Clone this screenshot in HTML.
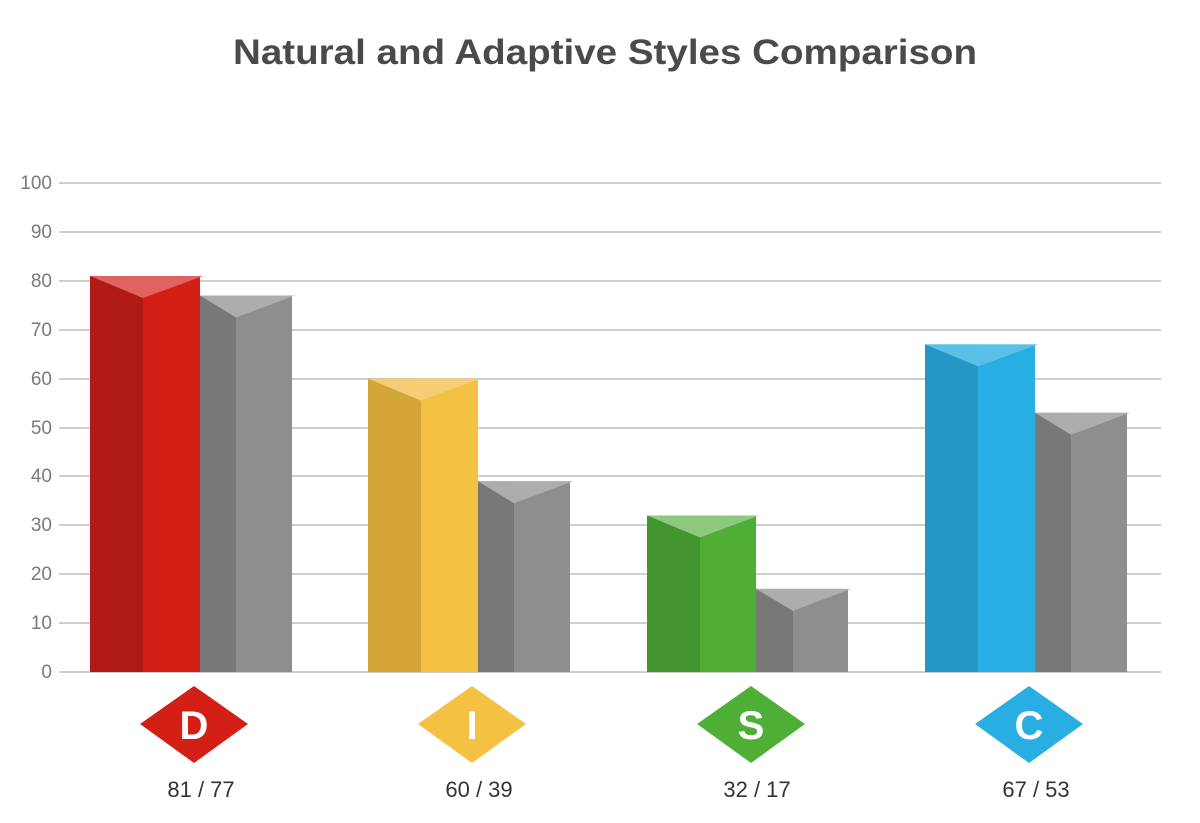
<!DOCTYPE html>
<html><head><meta charset="utf-8"><style>
html,body{margin:0;padding:0;background:#fff;}
svg{display:block;}
text{font-family:"Liberation Sans",sans-serif;}
</style></head><body>
<svg width="1200" height="823" viewBox="0 0 1200 823">
<text x="233" y="64" font-size="35" font-weight="bold" fill="#4a4a4a" textLength="744" lengthAdjust="spacingAndGlyphs">Natural and Adaptive Styles Comparison</text>
<g stroke="#cfcfcf" stroke-width="2">
<line x1="59" x2="1161" y1="183" y2="183"/><line x1="59" x2="1161" y1="232" y2="232"/>
<line x1="59" x2="1161" y1="281" y2="281"/><line x1="59" x2="1161" y1="330" y2="330"/>
<line x1="59" x2="1161" y1="379" y2="379"/><line x1="59" x2="1161" y1="428" y2="428"/>
<line x1="59" x2="1161" y1="476" y2="476"/><line x1="59" x2="1161" y1="525" y2="525"/>
<line x1="59" x2="1161" y1="574" y2="574"/><line x1="59" x2="1161" y1="623" y2="623"/>
<line x1="59" x2="1161" y1="672" y2="672"/>
</g>
<g font-size="19" fill="#7a7a7a" text-anchor="end">
<text x="52" y="189">100</text><text x="52" y="238">90</text><text x="52" y="287">80</text>
<text x="52" y="336">70</text><text x="52" y="385">60</text><text x="52" y="434">50</text>
<text x="52" y="482">40</text><text x="52" y="531">30</text><text x="52" y="580">20</text>
<text x="52" y="629">10</text><text x="52" y="678">0</text>
</g>
<rect x="90" y="276" width="53" height="396" fill="#b01a14"/><rect x="143" y="276" width="57" height="396" fill="#d31f16"/>
<polygon points="90,276 203,276 143,298" fill="#e06360"/>
<rect x="200" y="295.5" width="36" height="376.5" fill="#787878"/><rect x="236" y="295.5" width="56" height="376.5" fill="#8e8e8e"/>
<polygon points="200,295.5 295,295.5 236,317.5" fill="#adadad"/>
<rect x="368" y="378.6" width="53" height="293.4" fill="#d4a63a"/><rect x="421" y="378.6" width="57" height="293.4" fill="#f5c143"/>
<polygon points="368,378.6 481,378.6 421,400.6" fill="#f5cd75"/>
<rect x="478" y="481.3" width="36" height="190.7" fill="#787878"/><rect x="514" y="481.3" width="56" height="190.7" fill="#8e8e8e"/>
<polygon points="478,481.3 573,481.3 514,503.3" fill="#adadad"/>
<rect x="647" y="515.5" width="53" height="156.5" fill="#43962f"/><rect x="700" y="515.5" width="56" height="156.5" fill="#4fae36"/>
<polygon points="647,515.5 759,515.5 700,537.5" fill="#8cc97c"/>
<rect x="756" y="588.9" width="37" height="83.1" fill="#787878"/><rect x="793" y="588.9" width="55" height="83.1" fill="#8e8e8e"/>
<polygon points="756,588.9 851,588.9 793,610.9" fill="#adadad"/>
<rect x="925" y="344.4" width="53" height="327.6" fill="#2596c6"/><rect x="978" y="344.4" width="57" height="327.6" fill="#29aee3"/>
<polygon points="925,344.4 1038,344.4 978,366.4" fill="#5bc0e8"/>
<rect x="1035" y="412.8" width="36" height="259.2" fill="#787878"/><rect x="1071" y="412.8" width="56" height="259.2" fill="#8e8e8e"/>
<polygon points="1035,412.8 1130,412.8 1071,434.8" fill="#adadad"/>
<polygon points="140,724 194,686 248,724 194,763" fill="#d31f16"/>
<polygon points="418,724 472,686 526,724 472,763" fill="#f5c143"/>
<polygon points="697,724 751,686 805,724 751,763" fill="#4fae36"/>
<polygon points="975,724 1029,686 1083,724 1029,763" fill="#29aee3"/>
<g font-size="40" font-weight="bold" fill="#fff" text-anchor="middle">
<text x="194" y="739">D</text><text x="472" y="739">I</text><text x="751" y="739">S</text><text x="1029" y="739">C</text>
</g>
<g font-size="22" fill="#333" text-anchor="middle">
<text x="201" y="797">81 / 77</text><text x="479" y="797">60 / 39</text><text x="757" y="797">32 / 17</text><text x="1036" y="797">67 / 53</text>
</g>
</svg>
</body></html>
